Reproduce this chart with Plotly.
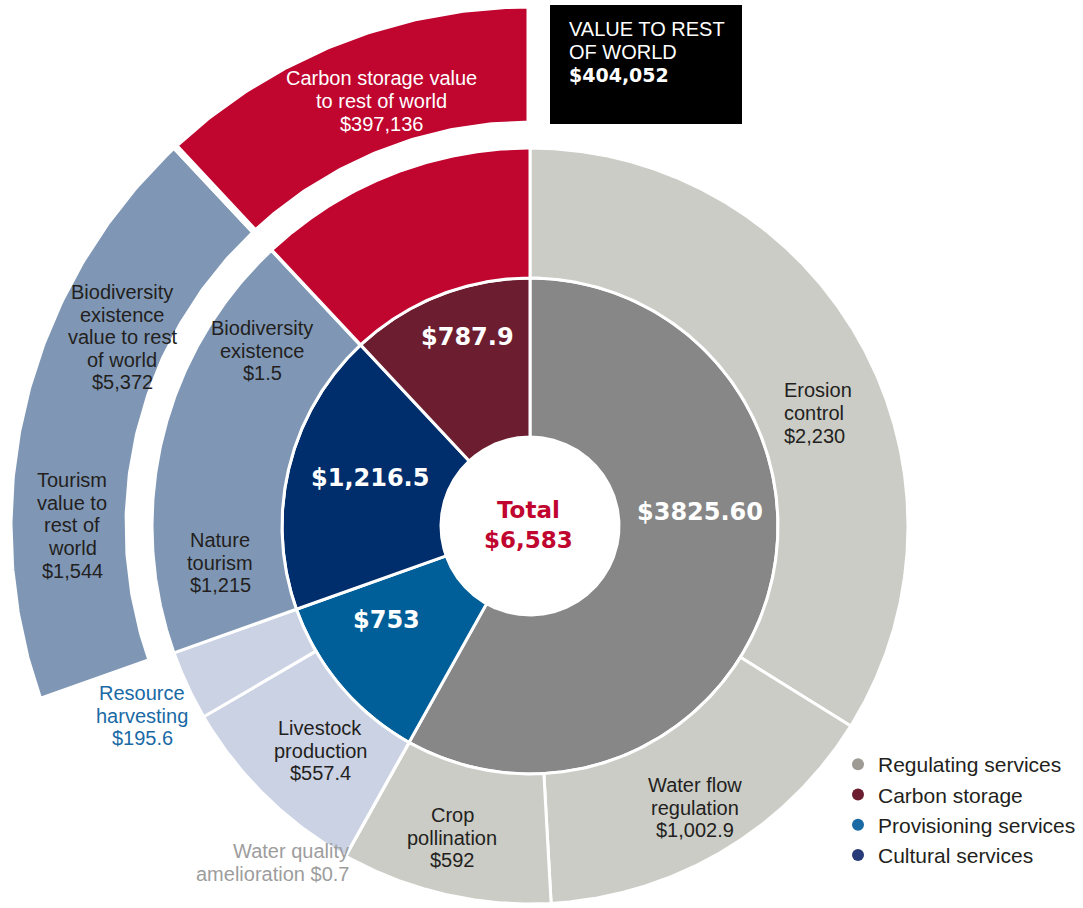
import numpy as np
import plotly.graph_objects as go

# inner ring: service groups, clockwise from 12 o'clock
groups = ["Regulating services", "Provisioning services", "Cultural services", "Carbon storage"]
group_values = [3825.60, 753.0, 1216.5, 787.9]
group_colors = ["#878787", "#005f99", "#002d6b", "#6c1e30"]
child_colors = ["#cbccc6", "#cbd2e4", "#7f97b5", "#c0052f"]
legend_colors = ["#9e9a94", "#1a6aa5", "#263b78", "#6c1e30"]
legend_order = [0, 3, 1, 2]

# middle ring: single services inside each group
services = ["Erosion control", "Water flow regulation", "Crop pollination", "Water quality amelioration",
            "Livestock production", "Resource harvesting",
            "Nature tourism", "Biodiversity existence",
            "Carbon storage"]
service_parent = [0, 0, 0, 0, 1, 1, 2, 2, 3]
service_values = [2230, 1002.9, 592, 0.7, 557.4, 195.6, 1215, 1.5, 787.9]

# outer ring: value to rest of world, drawn over the angle of its group
world_items = ["Biodiversity existence value to rest of world", "Tourism value to rest of world",
               "Carbon storage value to rest of world"]
world_parent = [2, 2, 3]
world_values = [5372, 1544, 397136]

CX, CY = 530, 526
R_HOLE, R_IN, R_MID = 89, 248, 378
R_OUT0, R_OUT1 = 402, 521
DARK = "#231f20"
FONT = "Liberation Sans"
BOLD = "DejaVu Sans"

total = sum(group_values)
bounds = np.concatenate([[0], np.cumsum(group_values)]) / total * 360


def wedge(t0, t1, r0, r1):
    n = max(int((t1 - t0) * 3), 2)
    t = np.radians(np.linspace(t0, t1, n))
    tb = t[::-1]
    xs = np.concatenate([CX + r1 * np.sin(t), CX + r0 * np.sin(tb)])
    ys = np.concatenate([CY - r1 * np.cos(t), CY - r0 * np.cos(tb)])
    return np.append(xs, xs[0]), np.append(ys, ys[0])


fig = go.Figure()

def add_wedge(t0, t1, r0, r1, color, lw, name):
    xs, ys = wedge(t0, t1, r0, r1)
    fig.add_trace(go.Scatter(x=xs, y=ys, mode="lines", fill="toself", fillcolor=color,
                             line=dict(color="white", width=lw), name=name,
                             hoverinfo="text", hovertext=name, showlegend=False))

# inner ring
for i, g in enumerate(groups):
    add_wedge(bounds[i], bounds[i + 1], R_HOLE, R_IN, group_colors[i], 3, g)

# middle ring
for i, g in enumerate(groups):
    t = bounds[i]
    scale = (bounds[i + 1] - bounds[i]) / group_values[i]
    for s, p, v in zip(services, service_parent, service_values):
        if p != i:
            continue
        add_wedge(t, t + v * scale, R_IN, R_MID, child_colors[i], 3, s)
        t += v * scale

# outer ring
for i in sorted(set(world_parent)):
    names = [w for w, p in zip(world_items, world_parent) if p == i]
    add_wedge(bounds[i], bounds[i + 1], R_OUT0, R_OUT1, child_colors[i], 7, " / ".join(names))

# legend entries
for k in legend_order:
    fig.add_trace(go.Scatter(x=[None], y=[None], mode="markers", name=groups[k],
                             marker=dict(color=legend_colors[k], size=18)))


def text_block(x, y, lines, size=20, color=DARK, gap=22.6, bold=False, align="center"):
    for j, ln in enumerate(lines):
        fig.add_annotation(x=x, y=y + j * gap, text=f"<b>{ln}</b>" if bold else ln,
                           showarrow=False, xanchor=align, yanchor="middle",
                           font=dict(family=BOLD if bold else FONT, size=size, color=color))


# ring labels
text_block(381, 78, ["Carbon storage value", "to rest of world", "$397,136"], color="white", gap=23)
text_block(122, 292, ["Biodiversity", "existence", "value to rest", "of world", "$5,372"])
text_block(72, 480, ["Tourism", "value to", "rest of", "world", "$1,544"], gap=22.7)
text_block(262, 328, ["Biodiversity", "existence", "$1.5"])
text_block(220, 540, ["Nature", "tourism", "$1,215"])
text_block(782, 390, ["Erosion", "control", "$2,230"], align="left", gap=23)
text_block(695, 785, ["Water flow", "regulation", "$1,002.9"])
text_block(452, 815, ["Crop", "pollination", "$592"])
text_block(320, 728, ["Livestock", "production", "$557.4"])
text_block(142, 693, ["Resource", "harvesting", "$195.6"], color="#1a6aa5")
text_block(351, 851, ["Water quality", "amelioration $0.7"], color="#9d9d9d", align="right")

# group totals
text_block(700, 512, ["$3825.60"], size=24, color="white", bold=True)
text_block(467, 337, ["$787.9"], size=24, color="white", bold=True)
text_block(370, 478, ["$1,216.5"], size=24, color="white", bold=True)
text_block(386, 620, ["$753"], size=24, color="white", bold=True)
fig.add_annotation(x=528, y=525, text=f"<b>Total<br>${total:,.0f}</b>", showarrow=False,
                   xanchor="center", yanchor="middle",
                   font=dict(family=BOLD, size=23, color="#c0052f"))

# rest-of-world box
fig.add_shape(type="rect", x0=550, x1=742, y0=5, y1=124, fillcolor="black", line=dict(width=0),
              layer="above")
text_block(567, 29, ["VALUE TO REST", "OF WORLD"], size=20, color="white", align="left", gap=23)
text_block(567, 75, [f"${sum(world_values):,}"], size=19, color="white", bold=True, align="left")

fig.update_layout(
    width=1083, height=908,
    margin=dict(l=0, r=0, t=0, b=0),
    paper_bgcolor="white", plot_bgcolor="white",
    xaxis=dict(range=[0, 1083], visible=False, fixedrange=True),
    yaxis=dict(range=[908, 0], visible=False, fixedrange=True),
    legend=dict(x=838 / 1083, y=1 - 744 / 908, xanchor="left", yanchor="top",
                font=dict(family=FONT, size=21, color=DARK), bgcolor="rgba(0,0,0,0)",
                itemsizing="constant", tracegroupgap=0),
    font=dict(family=FONT),
)

fig.write_html("out.html", config={"displayModeBar": False},
               post_script="document.body.style.margin='0px';")
